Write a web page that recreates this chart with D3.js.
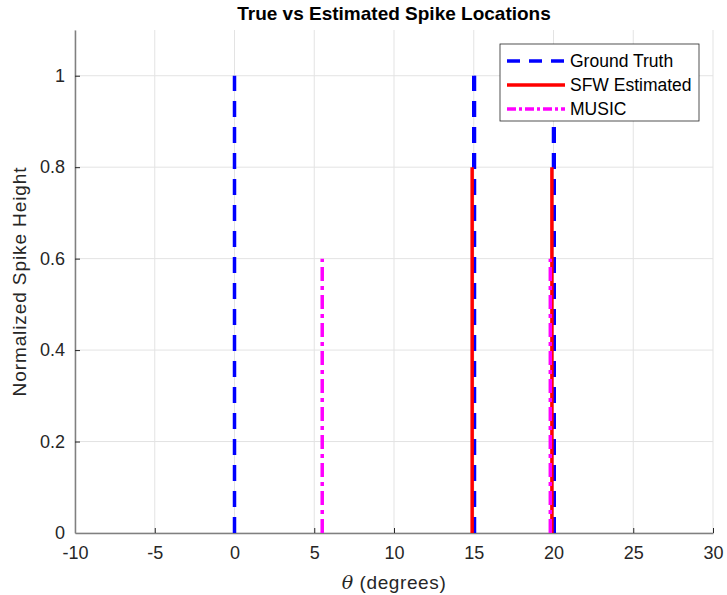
<!DOCTYPE html>
<html>
<head>
<meta charset="utf-8">
<script src="https://cdn.jsdelivr.net/npm/d3@7"></script>
<style>
  body { margin: 0; background: #fff; }
  text { font-family: "Liberation Sans", Arial, sans-serif; }
</style>
</head>
<body>
<div id="chart"></div>
<script>
// data
const truthPos = [0, 15, 20];
const truthAmp = [1, 1, 1];
const sfwPos = [14.9, 19.9];
const sfwAmp = [0.8, 0.8];
const musicPos = [5.5, 19.8];
const musicAmp = [0.6, 0.6];
const xTicks = [-10, -5, 0, 5, 10, 15, 20, 25, 30];
const yTicks = [0, 0.2, 0.4, 0.6, 0.8, 1];
const legendLabels = ['Ground Truth', 'SFW Estimated', 'MUSIC'];

const width = 727, height = 595;
const margin = {left: 75, right: 14, top: 30, bottom: 62};

const svg = d3.select('#chart').append('svg')
  .attr('width', width).attr('height', height);

const x = d3.scaleLinear().domain([-10, 30]).range([margin.left, width - margin.right]);
const y = d3.scaleLinear().domain([0, 1.1]).range([height - margin.bottom, margin.top]);

// grid
const grid = svg.append('g');
grid.selectAll('.gx').data(xTicks).enter().append('line')
  .attr('x1', d => x(d)).attr('x2', d => x(d))
  .attr('y1', y(0)).attr('y2', y(1.1))
  .attr('stroke', '#e3e3e3').attr('stroke-width', 1);
grid.selectAll('.gy').data(yTicks).enter().append('line')
  .attr('x1', x(-10)).attr('x2', x(30))
  .attr('y1', d => y(d)).attr('y2', d => y(d))
  .attr('stroke', '#e3e3e3').attr('stroke-width', 1);

// axes (plain hyphen minus like matlab)
const fmt = d => String(d);
const xAxis = svg.append('g')
  .attr('transform', `translate(0,${y(0)})`)
  .call(d3.axisBottom(x).tickValues(xTicks).tickFormat(fmt).tickSizeInner(-5).tickSizeOuter(0).tickPadding(13));
const yAxis = svg.append('g')
  .attr('transform', `translate(${x(-10)},0)`)
  .call(d3.axisLeft(y).tickValues(yTicks).tickFormat(fmt).tickSizeInner(-5).tickSizeOuter(0).tickPadding(10));
[xAxis, yAxis].forEach(a => {
  a.select('.domain').attr('stroke', '#808080').attr('stroke-width', 1.5);
  a.selectAll('.tick line').attr('stroke', '#262626');
  a.selectAll('.tick text').attr('fill', '#262626').style('font-size', '18px')
    .style('font-family', '"Liberation Sans", Arial, sans-serif');
});
xAxis.selectAll('.tick line').filter(d => d === -10).remove();
yAxis.selectAll('.tick line').filter(d => d === 0).remove();

// stems
function stems(pos, amp, color, dash, w, dx) {
  svg.append('g').selectAll('line').data(pos).enter().append('line')
    .attr('x1', d => x(d) + dx).attr('x2', d => x(d) + dx)
    .attr('y1', y(0)).attr('y2', (d, i) => y(amp[i]))
    .attr('stroke', color).attr('stroke-width', w)
    .attr('stroke-dasharray', dash);
}
stems(truthPos, truthAmp, '#0000ff', '16,10', 3.5, 0);
stems(sfwPos, sfwAmp, '#ff0000', null, 3.5, 0);
stems(musicPos, musicAmp, '#ff00ff', '14,5,4,5', 3.5, 0);
// blue dashes peeking out on the right of the overlapping stems
stems(truthPos.slice(1), truthAmp.slice(1), '#0000ff', '16,10', 2, 1.5);

// legend
const lg = svg.append('g').attr('transform', 'translate(500,44)');
lg.append('rect').attr('width', 199).attr('height', 77)
  .attr('fill', '#fff').attr('stroke', '#262626').attr('stroke-width', 0.8);
const styles = [
  {color: '#0000ff', dash: '13,9'},
  {color: '#ff0000', dash: null},
  {color: '#ff00ff', dash: '9,3,3,3'}
];
legendLabels.forEach((t, i) => {
  const cy = 17 + i * 24;
  lg.append('line').attr('x1', 7).attr('x2', 65).attr('y1', cy).attr('y2', cy)
    .attr('stroke', styles[i].color).attr('stroke-width', 3.5)
    .attr('stroke-dasharray', styles[i].dash);
  lg.append('text').attr('x', 70).attr('y', cy + 6).text(t)
    .style('font-size', '17.5px').attr('fill', '#000');
});

// title and labels
svg.append('text').attr('x', (x(-10) + x(30)) / 2).attr('y', 20)
  .attr('text-anchor', 'middle').style('font-size', '19px').style('font-weight', 'bold')
  .attr('fill', '#000').text('True vs Estimated Spike Locations');

const xl = svg.append('text').attr('x', (x(-10) + x(30)) / 2).attr('y', 589)
  .attr('text-anchor', 'middle').style('font-size', '19px').style('letter-spacing', '0.6px')
  .attr('fill', '#262626');
xl.append('tspan').style('font-style', 'italic').style('font-family', '"DejaVu Serif", serif').text('θ');
xl.append('tspan').text(' (degrees)');

svg.append('text')
  .attr('transform', `translate(26,${(y(0) + y(1.1)) / 2}) rotate(-90)`)
  .attr('text-anchor', 'middle').style('font-size', '19px').style('letter-spacing', '0.9px')
  .attr('fill', '#262626')
  .text('Normalized Spike Height');
</script>
</body>
</html>
